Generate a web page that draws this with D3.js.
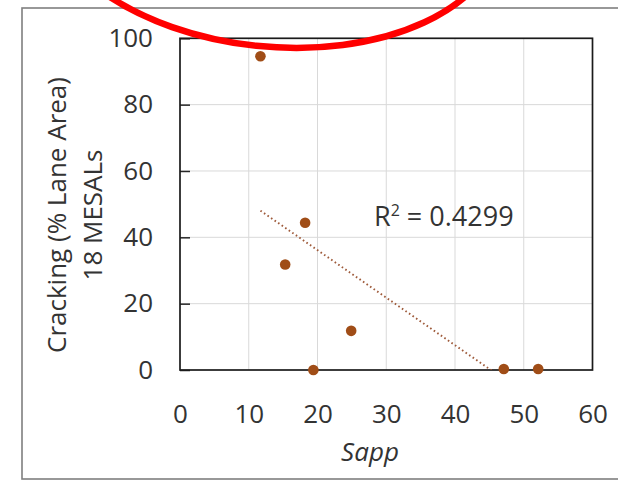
<!DOCTYPE html>
<html>
<head>
<meta charset="utf-8">
<script src="https://cdn.jsdelivr.net/npm/d3@7"></script>
<style>
  html, body { margin: 0; padding: 0; background: #ffffff; }
  svg { display: block; }
  text { font-family: "Open Sans", "Noto Sans", sans-serif; fill: #333333; }
</style>
</head>
<body>
<script>
// Sapp vs. cracking at 18 MESALs
const sappValues     = [11.7, 18.2, 15.3, 24.9, 19.4, 47.1, 52.1];
const crackingValues = [94.6, 44.4, 31.8, 11.8, 0.0, 0.3, 0.3];
const xTicks = [0, 10, 20, 30, 40, 50, 60];
const yTicks = [0, 20, 40, 60, 80, 100];
const yTitleLines = ["Cracking (% Lane Area)", "18 MESALs"];
const xTitle = "Sapp";
const r2Label = "0.4299";

const W = 618, H = 482;
const plot = { left: 180, right: 592.5, top: 38.3, bottom: 370 };
const dotColor = "#a04d17";
const textColor = "#333333";

const svg = d3.select("body").append("svg")
  .attr("width", W).attr("height", H);

svg.append("rect").attr("width", W).attr("height", H).attr("fill", "#ffffff");

// chart frame
svg.append("rect")
  .attr("x", 22).attr("y", 8)
  .attr("width", W + 20).attr("height", 471)
  .attr("fill", "none").attr("stroke", "#7f7f7f").attr("stroke-width", 1.6);

const x = d3.scaleLinear().domain([0, 60]).range([plot.left, plot.right]);
const y = d3.scaleLinear().domain([0, 100]).range([plot.bottom, plot.top]);

// gridlines
const grid = svg.append("g").attr("stroke", "#d9d9d9").attr("stroke-width", 1);
grid.selectAll("line.v").data(xTicks.slice(1, -1)).join("line")
  .attr("x1", d => x(d)).attr("x2", d => x(d))
  .attr("y1", plot.top).attr("y2", plot.bottom);
grid.selectAll("line.h").data(yTicks.slice(1, -1)).join("line")
  .attr("x1", plot.left).attr("x2", plot.right)
  .attr("y1", d => y(d)).attr("y2", d => y(d));

// axes
const yAxis = d3.axisLeft(y).tickValues(yTicks).tickSizeInner(-10).tickSizeOuter(0).tickPadding(27);
const gy = svg.append("g").attr("transform", `translate(${plot.left},0)`).call(yAxis);
gy.select(".domain").remove();
gy.selectAll("line").attr("stroke", "#262626").attr("stroke-width", 1.5);
gy.selectAll("text").attr("font-size", 26).attr("fill", textColor)
  .style("font-family", "'Open Sans', sans-serif");

const xAxis = d3.axisBottom(x).tickValues(xTicks).tickSize(0).tickPadding(34.5);
const gx = svg.append("g").attr("transform", `translate(0,${plot.bottom})`).call(xAxis);
gx.select(".domain").remove();
gx.selectAll("text").attr("font-size", 26).attr("fill", textColor)
  .style("font-family", "'Open Sans', sans-serif");

// plot border
svg.append("rect")
  .attr("x", plot.left).attr("y", plot.top)
  .attr("width", plot.right - plot.left).attr("height", plot.bottom - plot.top)
  .attr("fill", "none").attr("stroke", "#1a1a1a").attr("stroke-width", 1.7);

// linear trendline (least squares), clipped to the plot area
const pts = sappValues.map((s, i) => [s, crackingValues[i]]);
const mx = d3.mean(sappValues), my = d3.mean(crackingValues);
const sxy = d3.sum(pts, p => (p[0] - mx) * (p[1] - my));
const sxx = d3.sum(pts, p => (p[0] - mx) ** 2);
const slope = sxy / sxx, intercept = my - slope * mx;
const [xmin, xmax] = d3.extent(sappValues);

svg.append("clipPath").attr("id", "plot-clip")
  .append("rect")
  .attr("x", plot.left).attr("y", plot.top)
  .attr("width", plot.right - plot.left).attr("height", plot.bottom - plot.top);

svg.append("line")
  .attr("clip-path", "url(#plot-clip)")
  .attr("x1", x(xmin)).attr("y1", y(intercept + slope * xmin))
  .attr("x2", x(xmax)).attr("y2", y(intercept + slope * xmax))
  .attr("stroke", "#9e5a3a").attr("stroke-width", 1.9)
  .attr("stroke-dasharray", "1.6 2.7");

// points
svg.append("g").selectAll("circle").data(pts).join("circle")
  .attr("cx", d => x(d[0])).attr("cy", d => y(d[1]))
  .attr("r", 5.3).attr("fill", dotColor);

// R² label
const r2 = svg.append("text")
  .attr("x", 374).attr("y", 226)
  .attr("font-size", 27).attr("fill", textColor);
r2.append("tspan").text("R");
r2.append("tspan").attr("font-size", 16).attr("dy", -10).text("2");
r2.append("tspan").attr("dy", 10).text(" = " + r2Label);

// axis titles
const yTitle = svg.append("text")
  .attr("transform", "translate(0,215) rotate(-90)")
  .attr("text-anchor", "middle").attr("font-size", 26).attr("fill", textColor);
yTitleLines.forEach((t, i) => {
  yTitle.append("tspan").attr("x", 0).attr("y", 66 + i * 36).text(t);
});

svg.append("text")
  .attr("x", 370).attr("y", 461)
  .attr("text-anchor", "middle").attr("font-size", 26)
  .attr("font-style", "italic").attr("fill", textColor)
  .text(xTitle);

// red highlight ellipse
svg.append("ellipse")
  .attr("transform", "translate(271,-93.4) rotate(6)")
  .attr("rx", 233).attr("ry", 140)
  .attr("fill", "none").attr("stroke", "#ff0000").attr("stroke-width", 6.5);
</script>
</body>
</html>
